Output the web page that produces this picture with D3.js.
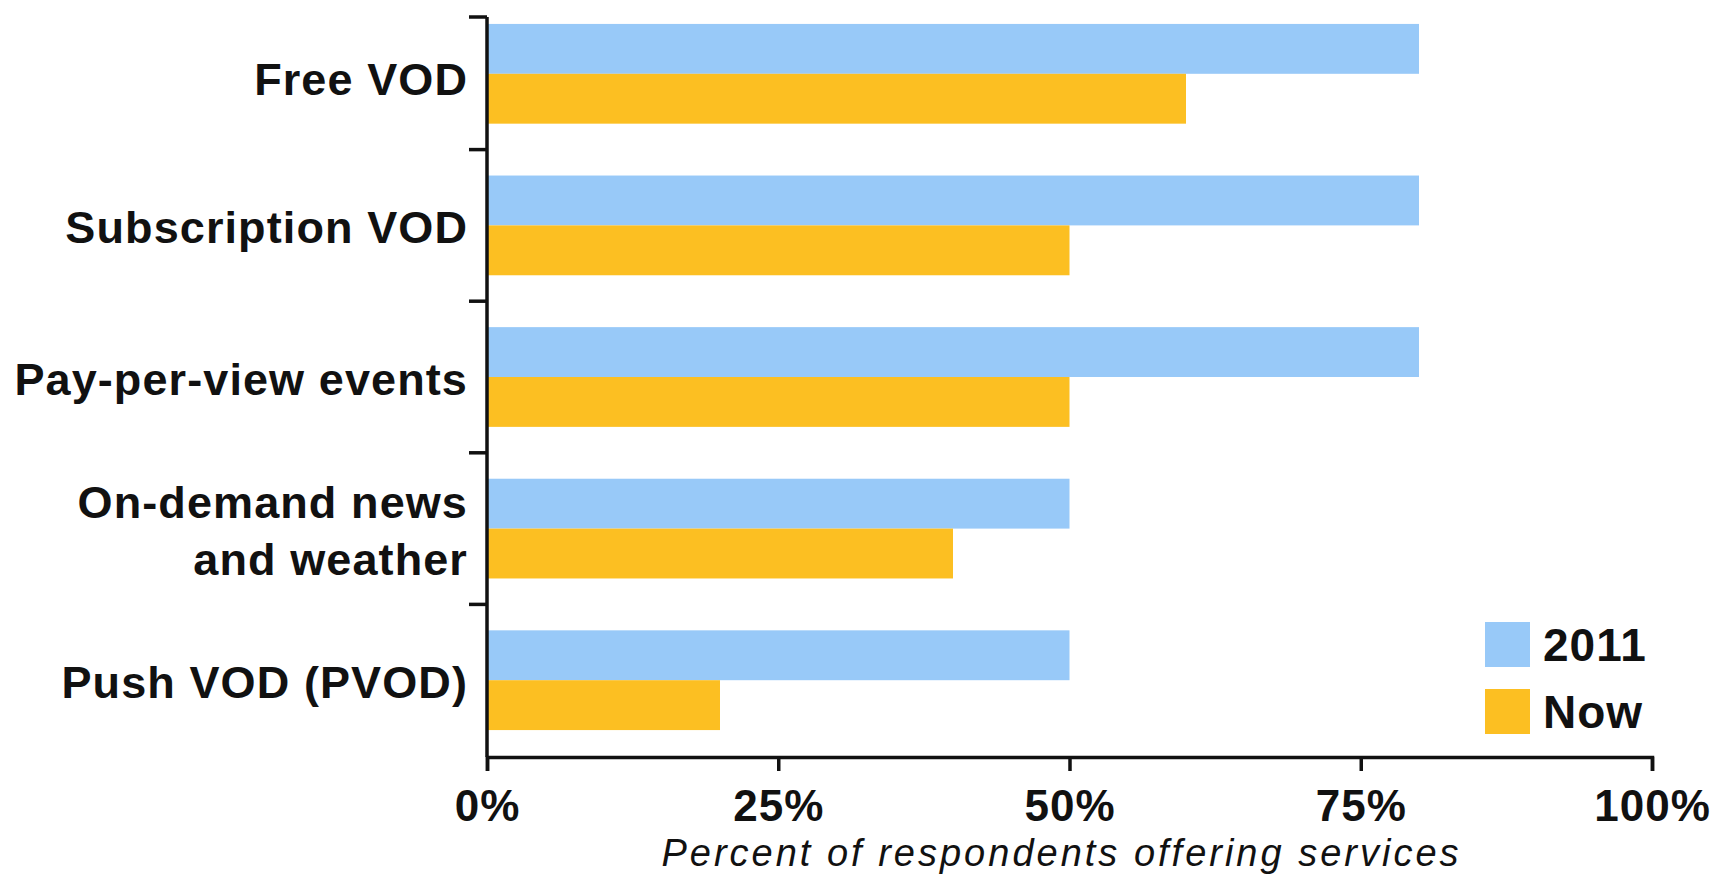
<!DOCTYPE html>
<html>
<head>
<meta charset="utf-8">
<script src="https://cdn.jsdelivr.net/npm/d3@7"></script>
<style>
  body { margin: 0; background: #fff; }
  svg text { font-family: "Liberation Sans", Arial, sans-serif; fill: #111; }
</style>
</head>
<body>
<div id="chart"></div>
<script>
const w = 1717;
const h = 879;

const categories = ["Free VOD", "Subscription VOD", "Pay-per-view events", "On-demand news and weather", "Push VOD (PVOD)"];
const labelLines = [["Free VOD"], ["Subscription VOD"], ["Pay-per-view events"], ["On-demand news", "and weather"], ["Push VOD (PVOD)"]];
const seriesNames = ["2011", "Now"];
const values2011 = [80, 80, 80, 50, 50];
const valuesNow = [60, 50, 50, 40, 20];
const xTicks = [0, 25, 50, 75, 100];
const xTitle = "Percent of respondents offering services";

const colors = {"2011": "#98c9f8", "Now": "#fcbf22"};

const data = categories.map((c, i) => ({cat: c, lines: labelLines[i], "2011": values2011[i], "Now": valuesNow[i]}));

const x = d3.scaleLinear().domain([0, 100]).range([487, 1652]);
const y = d3.scaleBand().domain(categories).range([-2, 756]);
const ySub = d3.scaleBand().domain(seriesNames).range([0, y.bandwidth()]).paddingOuter(0.52);

const svg = d3.select("#chart").append("svg").attr("width", w).attr("height", h);

// bars
const groups = svg.selectAll("g.cat").data(data).enter().append("g")
  .attr("class", "cat")
  .attr("transform", d => "translate(0," + y(d.cat) + ")");

groups.selectAll("rect").data(d => seriesNames.map(s => ({s: s, v: d[s]}))).enter().append("rect")
  .attr("x", x(0) + 1)
  .attr("y", d => ySub(d.s))
  .attr("width", d => x(d.v) - x(0) - 1)
  .attr("height", ySub.bandwidth())
  .attr("fill", d => colors[d.s]);

// y axis (custom: ticks between categories)
const yTop = 17;
const yBottom = 757;
svg.append("line")
  .attr("x1", x(0)).attr("x2", x(0))
  .attr("y1", yTop).attr("y2", yBottom)
  .attr("stroke", "#111").attr("stroke-width", 3.5);

const bounds = [yTop].concat(categories.slice(1).map(c => y(c)));
svg.selectAll("line.ytick").data(bounds).enter().append("line")
  .attr("class", "ytick")
  .attr("x1", x(0) - 18).attr("x2", x(0))
  .attr("y1", d => d).attr("y2", d => d)
  .attr("stroke", "#111").attr("stroke-width", 3.5);

svg.selectAll("text.ylab").data(data).enter().append("text")
  .attr("class", "ylab")
  .attr("text-anchor", "end")
  .style("font-size", "45px")
  .style("font-weight", "bold")
  .style("letter-spacing", "1.1px")
  .each(function (d, i) {
    const t = d3.select(this);
    const cy = y(d.cat) + y.bandwidth() / 2 + (i === 0 ? 5 : 2);
    const n = d.lines.length;
    d.lines.forEach((line, k) => {
      t.append("tspan")
        .attr("x", 468)
        .attr("y", cy + 16 + (k - (n - 1) / 2) * 57)
        .text(line);
    });
  });

// x axis
const xAxis = svg.append("g")
  .attr("transform", "translate(0," + yBottom + ")")
  .call(d3.axisBottom(x).tickValues(xTicks).tickFormat(d => d + "%").tickSize(14).tickSizeOuter(14).tickPadding(19));

xAxis.select(".domain").attr("stroke", "#111").attr("stroke-width", 3.5);
xAxis.selectAll(".tick line").attr("stroke", "#111").attr("stroke-width", 3.5);
xAxis.selectAll(".tick text")
  .style("font-family", "'Liberation Sans', Arial, sans-serif")
  .style("font-size", "44px")
  .style("font-weight", "bold")
  .style("letter-spacing", "1px")
  .attr("fill", "#111");

svg.append("text")
  .attr("x", (x(0) + x(100)) / 2 - 8)
  .attr("y", 866)
  .attr("text-anchor", "middle")
  .style("font-size", "38px")
  .style("font-style", "italic")
  .style("letter-spacing", "3px")
  .attr("fill", "#222")
  .text(xTitle);

// legend
const legend = svg.selectAll("g.legend").data(seriesNames).enter().append("g")
  .attr("class", "legend")
  .attr("transform", (d, i) => "translate(1485," + (622 + i * 67) + ")");

legend.append("rect")
  .attr("width", 45).attr("height", 45)
  .attr("fill", d => colors[d]);

legend.append("text")
  .attr("x", 58)
  .attr("y", 39)
  .style("font-size", "46px")
  .style("font-weight", "bold")
  .style("letter-spacing", "1px")
  .text(d => d);
</script>
</body>
</html>
